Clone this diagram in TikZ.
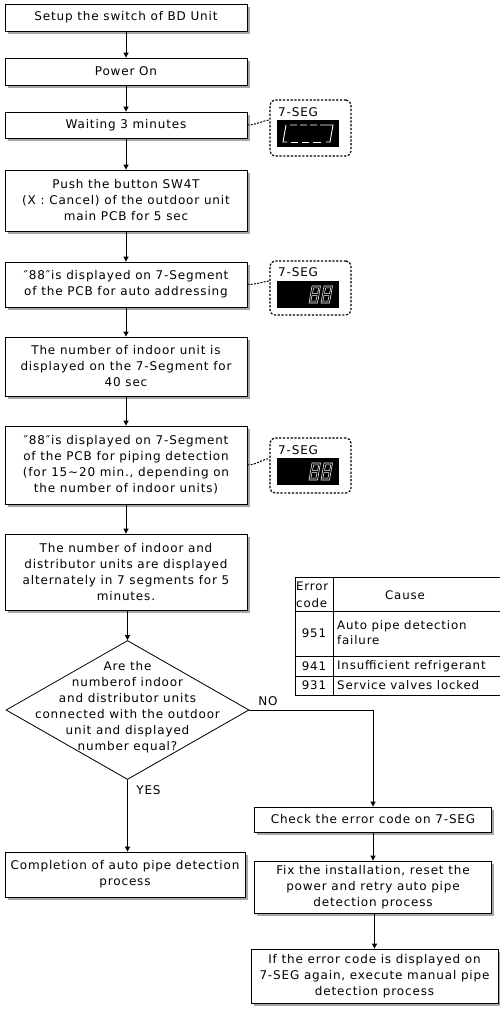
\documentclass[tikz,border=0pt]{standalone}
\usepackage{fontspec}
\setmainfont{DejaVu Sans}[LetterSpace=7]
\usetikzlibrary{arrows.meta,shapes.geometric,shadows,calc}
\newcommand\myfs{\fontsize{12}{16}\selectfont}
\newcommand\mytfs{\fontsize{11.8}{15}\selectfont}
\newcommand\dq{″}
\begin{document}
\begin{tikzpicture}[x=1pt,y=-1pt,
  box/.style={draw, line width=0.8pt, fill=white, align=center, inner sep=0pt, font=\myfs,
    drop shadow={shadow xshift=2.5pt, shadow yshift=-2.5pt, fill=black!35, opacity=1}},
  arr/.style={-{Triangle[length=5pt,width=5pt]}, line width=0.8pt},
  segbox/.style={draw, rounded corners=5pt, line width=1.2pt, dash pattern=on 2.2pt off 1.6pt, inner sep=0pt},
  disp/.style={fill=black, inner sep=0pt, minimum width=62pt, minimum height=27pt},
  conn/.style={line width=1pt, dash pattern=on 2pt off 1.3pt},
  lbl/.style={font=\myfs, inner sep=0pt},
  eight/.pic={
    \draw[white, line width=0.55pt] (0,0) -- (8.5,0) -- (11.5,-17) -- (3,-17) -- cycle;
    \draw[white, line width=0.55pt] (1.8,-1.8) -- (6.9,-1.8) -- (8.1,-7.4) -- (3,-7.4) -- cycle;
    \draw[white, line width=0.55pt] (3.5,-9.6) -- (8.6,-9.6) -- (9.8,-15.2) -- (4.7,-15.2) -- cycle;
  }]
\useasboundingbox (0,0) rectangle (500,1015);

% main column
\node[box, minimum width=242pt, minimum height=27pt] (b1) at (126,17.5) {Setup the switch of BD Unit};
\node[box, minimum width=242pt, minimum height=27pt] (b2) at (126,71.5) {Power On};
\node[box, minimum width=242pt, minimum height=26pt] (b3) at (126,125) {Waiting 3 minutes};
\node[box, minimum width=242pt, minimum height=61pt] (b4) at (126,200.5) {Push the button SW4T\\(X : Cancel) of the outdoor unit\\main PCB for 5 sec};
\node[box, minimum width=242pt, minimum height=45pt] (b5) at (126,284.5) {\dq88\dq is displayed on 7-Segment\\of the PCB for auto addressing};
\node[box, minimum width=242pt, minimum height=59pt] (b6) at (126,366.5) {The number of indoor unit is\\displayed on the 7-Segment for\\40 sec};
\node[box, minimum width=242pt, minimum height=78pt] (b7) at (126,465) {\dq88\dq is displayed on 7-Segment\\of the PCB for piping detection\\(for 15\string~20 min., depending on\\the number of indoor units)};
\node[box, minimum width=242pt, minimum height=76pt] (b8) at (126,572) {The number of indoor and\\distributor units are displayed\\alternately in 7 segments for 5\\minutes.};

\node[draw, diamond, line width=0.8pt, minimum width=243pt, minimum height=139pt, inner sep=0pt] (dec) at (127.5,710) {};
\node[align=center, font=\myfs, inner sep=0pt] (dect) at (127.5,707) {Are the\\numberof indoor\\and distributor units\\connected with the outdoor\\unit and displayed\\number equal?};

\node[box, minimum width=240pt, minimum height=45pt] (comp) at (125,874.5) {Completion of auto pipe detection\\process};

% right column
\node[box, minimum width=237pt, minimum height=25pt] (chk) at (373,819.5) {Check the error code on 7-SEG};
\node[box, minimum width=237pt, minimum height=52pt] (fix) at (373,887) {Fix the installation, reset the\\power and retry auto pipe\\detection process};
\node[box, minimum width=247pt, minimum height=54pt] (iff) at (374.5,976) {If the error code is displayed on\\7-SEG again, execute manual pipe\\detection process};

% arrows
\draw[arr] (b1) -- (b2);
\draw[arr] (b2) -- (b3);
\draw[arr] (b3) -- (b4);
\draw[arr] (b4) -- (b5);
\draw[arr] (b5) -- (b6);
\draw[arr] (b6) -- (b7);
\draw[arr] (b7) -- (b8);
\draw[arr] (b8.south -| dec.north) -- (dec.north);
\draw[arr] (dec.south) -- (dec.south |- comp.north);
\draw[arr] (dec.east) -| (chk.north);
\draw[arr] (chk) -- (fix);
\draw[arr] (fix.south -| iff.north) -- (iff.north);
\node[lbl] (no) at (268,701) {NO};
\node[lbl] (yes) at (148.5,790) {YES};

% 7-SEG indicators
\node[segbox, minimum width=81pt, minimum height=56pt] (s1) at (310.5,128) {};
\node[disp] (d1) at (308,133.5) {};
\node[lbl, anchor=west] (t1) at (278,112) {7-SEG};
\draw[white, line width=0.9pt] (286,125) -- (283,142) -- (287,142);
\draw[white, line width=0.9pt] (290,125) -- (297,125) (300,125) -- (307,125) (310,125) -- (317,125) (320,125) -- (333,125) -- (330,142) -- (326,142);
\draw[white, line width=0.9pt] (291,142) -- (298,142) (302,142) -- (309,142) (313,142) -- (321,142);
\draw[conn] (b3.east) .. controls +(9,0) and +(-8,1) .. ($(s1.west)+(0,-8)$);

\node[segbox, minimum width=81pt, minimum height=54pt] (s2) at (310.5,288) {};
\node[disp] (d2) at (308,294.5) {};
\node[lbl, anchor=west] (t2) at (278,272) {7-SEG};
\pic at (309,303) {eight};
\pic at (321,303) {eight};
\draw[conn] (b5.east) .. controls +(9,0) and +(-8,1) .. ($(s2.west)+(0,-7)$);

\node[segbox, minimum width=81pt, minimum height=55pt] (s3) at (310.5,465.5) {};
\node[disp] (d3) at (308,471.5) {};
\node[lbl, anchor=west] (t3) at (278,450) {7-SEG};
\pic at (309,480) {eight};
\pic at (321,480) {eight};
\draw[conn] (b7.east) .. controls +(9,0) and +(-8,1) .. ($(s3.west)+(0,-7)$);

% error table
\draw[line width=0.8pt] (295,577) -- (500,577);
\draw[line width=0.8pt] (295,611) -- (500,611);
\draw[line width=0.8pt] (295,656) -- (500,656);
\draw[line width=0.8pt] (295,676) -- (500,676);
\draw[line width=0.8pt] (295,695) -- (500,695);
\draw[line width=0.8pt] (295,577) -- (295,695);
\draw[line width=0.8pt] (333,577) -- (333,695);
\node[font=\mytfs, inner sep=0pt, anchor=west] (h1) at (296,586) {Error};
\node[font=\mytfs, inner sep=0pt, anchor=west] (h2) at (296,603) {code};
\node[font=\mytfs, inner sep=0pt] (h3) at (405,595) {Cause};
\node[font=\mytfs, inner sep=0pt] (c1) at (314,633) {951};
\node[font=\mytfs, inner sep=0pt, anchor=west, align=left] (e1) at (337,633) {Auto pipe detection\\failure};
\node[font=\mytfs, inner sep=0pt] (c2) at (314,666.5) {941};
\node[font=\mytfs, inner sep=0pt, anchor=west] (e2) at (337,666.5) {Insufficient refrigerant};
\node[font=\mytfs, inner sep=0pt] (c3) at (314,685.5) {931};
\node[font=\mytfs, inner sep=0pt, anchor=west] (e3) at (337,685.5) {Service valves locked};
\end{tikzpicture}
\end{document}
